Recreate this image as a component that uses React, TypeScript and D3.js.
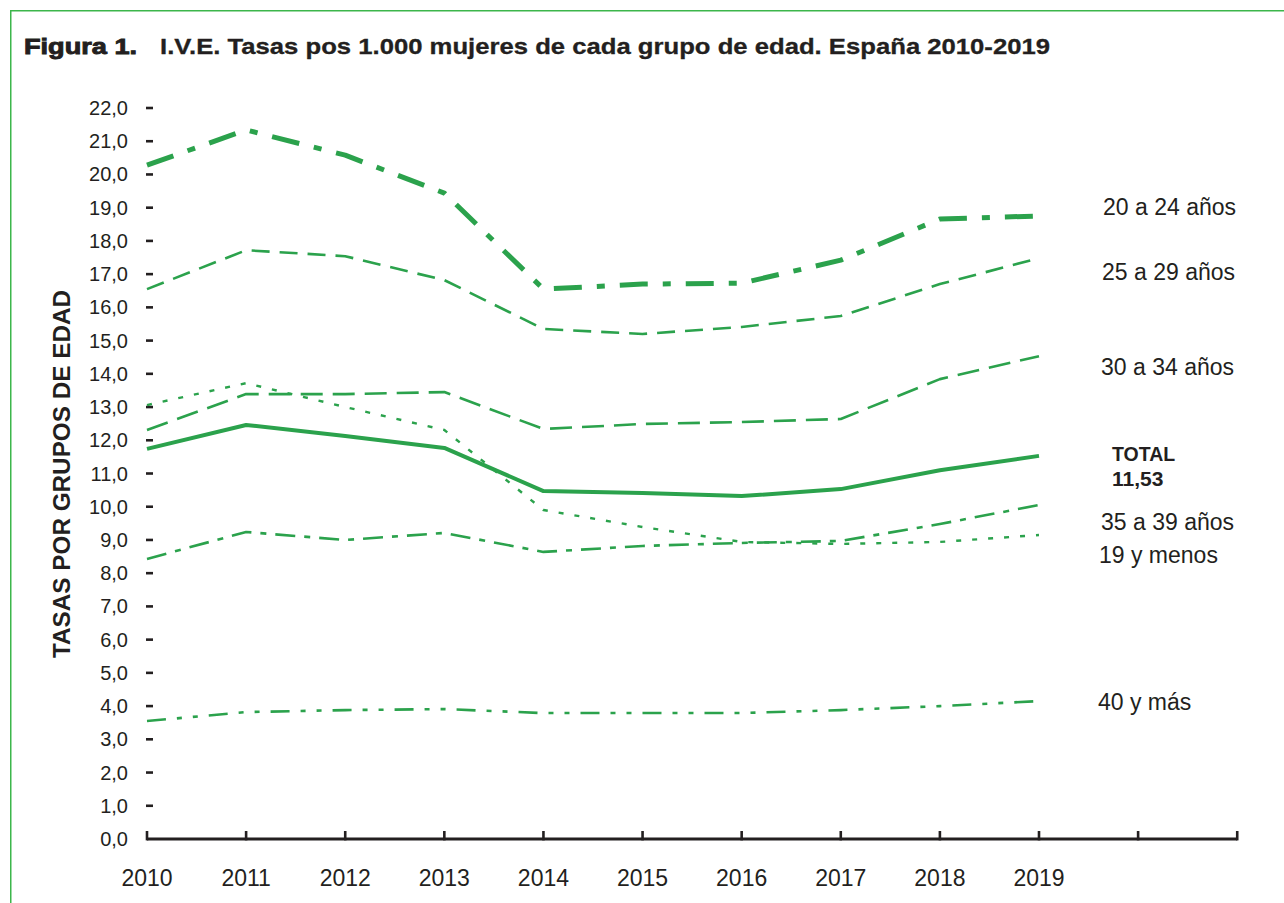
import * as d3 from "d3";

const years = [2010, 2011, 2012, 2013, 2014, 2015, 2016, 2017, 2018, 2019];
const axisYears = [2010, 2011, 2012, 2013, 2014, 2015, 2016, 2017, 2018, 2019, 2020, 2021];
const yTicks = d3.range(0, 23);

const g20a24 = [20.28, 21.34, 20.58, 19.44, 16.55, 16.7, 16.73, 17.42, 18.66, 18.75];
const g25a29 = [16.55, 17.72, 17.54, 16.82, 15.35, 15.2, 15.41, 15.74, 16.7, 17.48];
const g30a34 = [12.31, 13.39, 13.39, 13.45, 12.34, 12.49, 12.55, 12.64, 13.84, 14.53];
const total = [11.74, 12.46, 12.13, 11.77, 10.47, 10.41, 10.32, 10.53, 11.1, 11.53];
const g19menos = [13.06, 13.72, 13.0, 12.31, 9.9, 9.39, 8.94, 8.88, 8.94, 9.15];
const g35a39 = [8.43, 9.24, 9.0, 9.21, 8.64, 8.82, 8.91, 8.97, 9.48, 10.05];
const g40mas = [3.55, 3.82, 3.88, 3.91, 3.79, 3.79, 3.79, 3.88, 4.0, 4.15];

const GREEN = "#2ba24c";
const TEXT = "#231f20";

const series = [
  { key: "40", values: g40mas, width: 2.6, dash: "19 11 5 11 5 11" },
  { key: "35", values: g35a39, width: 2.6, dash: "20 9 6 9" },
  { key: "19", values: g19menos, width: 2.4, dash: "5 11" },
  { key: "30", values: g30a34, width: 2.6, dash: "22 10" },
  { key: "25", values: g25a29, width: 2.6, dash: "18 10" },
  { key: "20", values: g20a24, width: 5, dash: "28 15 8 15" },
  { key: "total", values: total, width: 4, dash: undefined },
];

const labels = [
  { text: "20 a 24 años", x: 1103, y: 207 },
  { text: "25 a 29 años", x: 1102, y: 272 },
  { text: "30 a 34 años", x: 1101, y: 367 },
  { text: "35 a 39 años", x: 1101, y: 522 },
  { text: "19 y menos", x: 1099, y: 555 },
  { text: "40 y más", x: 1098, y: 702 },
];

const FONT = "'Liberation Sans', Arial, Helvetica, sans-serif";

export default function App() {
  const x = d3.scaleLinear().domain([2010, 2019]).range([147, 1039]);
  const y = d3.scaleLinear().domain([0, 22]).range([839, 108]);

  const line = d3
    .line<number>()
    .x((_, i) => x(years[i]))
    .y((d) => y(d));

  const fmt = (v: number) => d3.format(".1f")(v).replace(".", ",");
  const last = total[total.length - 1];

  return (
    <svg
      width={1284}
      height={903}
      style={{ position: "absolute", left: 0, top: 0, background: "#fff" }}
      fontFamily={FONT}
    >
      <path d="M10.75,903 V10.75 H1284" fill="none" stroke="#3cb64b" strokeWidth={1.5} />

      <text x={24} y={54} fontSize={22} fontWeight="bold" fill={TEXT} stroke={TEXT} strokeWidth={0.9}
        textLength={113} lengthAdjust="spacingAndGlyphs">
        Figura 1.
      </text>
      <text x={160} y={54} fontSize={22} fontWeight="bold" fill={TEXT} stroke={TEXT} strokeWidth={0.3}
        textLength={890} lengthAdjust="spacingAndGlyphs">
        I.V.E. Tasas pos 1.000 mujeres de cada grupo de edad. España 2010-2019
      </text>

      <text
        transform={`translate(70,${474}) rotate(-90)`}
        textAnchor="middle"
        fontSize={24}
        fontWeight="bold"
        fill={TEXT}
        textLength={368}
        lengthAdjust="spacingAndGlyphs"
      >
        TASAS POR GRUPOS DE EDAD
      </text>

      {yTicks.map((t) => (
        <g key={t}>
          <text x={128} y={y(t) + 7} textAnchor="end" fontSize={20} fill={TEXT}>
            {fmt(t)}
          </text>
          {t > 0 && <line x1={146} x2={153} y1={y(t)} y2={y(t)} stroke={TEXT} strokeWidth={2.6} />}
        </g>
      ))}

      <line x1={x(2010)} x2={x(2021)} y1={y(0)} y2={y(0)} stroke={TEXT} strokeWidth={2.8} />
      {axisYears.map((yr) => (
        <line key={yr} x1={x(yr)} x2={x(yr)} y1={y(0) + 1.4} y2={y(0) - 8} stroke={TEXT} strokeWidth={2.6} />
      ))}
      {years.map((yr) => (
        <text key={yr} x={x(yr)} y={886} textAnchor="middle" fontSize={23} fill={TEXT}>
          {yr}
        </text>
      ))}

      {series.map((s) => (
        <path
          key={s.key}
          d={line(s.values) ?? undefined}
          fill="none"
          stroke={GREEN}
          strokeWidth={s.width}
          strokeDasharray={s.dash}
          strokeLinejoin="round"
        />
      ))}

      {labels.map((l) => (
        <text key={l.text} x={l.x} y={l.y + 8} fontSize={23} fill={TEXT}>
          {l.text}
        </text>
      ))}
      <text x={1112} y={461} fontSize={19.5} fontWeight="bold" fill={TEXT}>
        TOTAL
      </text>
      <text x={1112} y={486} fontSize={21} fontWeight="bold" fill={TEXT}>
        {d3.format(".2f")(last).replace(".", ",")}
      </text>
    </svg>
  );
}
